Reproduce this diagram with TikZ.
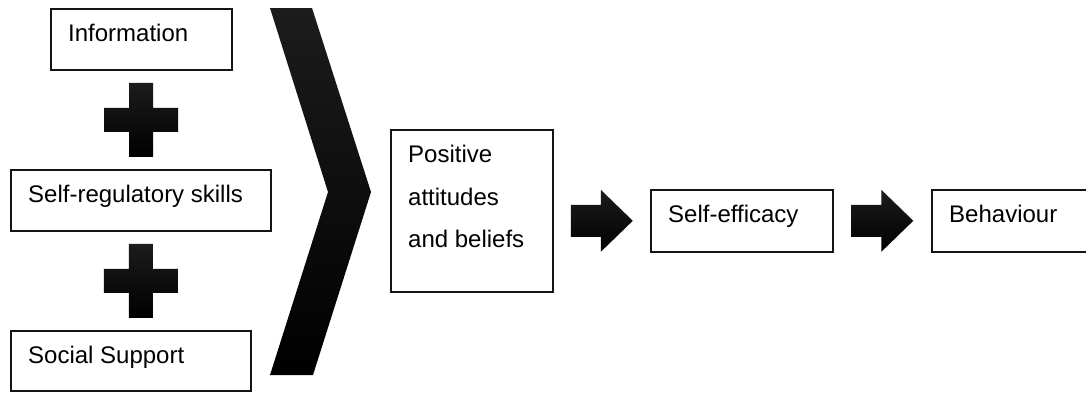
\documentclass[tikz,border=0pt]{standalone}
\usepackage{fontspec}
\setmainfont{Liberation Sans}
\usepackage{tikz}
\usetikzlibrary{calc,positioning}
\definecolor{ink}{HTML}{000000}
\definecolor{boxLine}{HTML}{141414}
\definecolor{shapeTop}{HTML}{1C1C1C}

\begin{document}
\begin{tikzpicture}[x=1pt, y=1pt,
    every node/.style={font=\fontsize{24}{42.5}\selectfont},
    box/.style={draw=boxLine, line width=1.6pt, inner sep=0pt,
                anchor=north west},
    boxText/.style={inner sep=0pt, align=left, text=ink},
    solidShape/.style={top color=shapeTop, bottom color=ink, draw=none},
    plusSign/.pic={
      \path[solidShape] (-12,37) -- (12,37) -- (12,12) -- (37,12)
        -- (37,-12) -- (12,-12) -- (12,-37) -- (-12,-37) -- (-12,-12)
        -- (-37,-12) -- (-37,12) -- (-12,12) -- cycle;},
    blockArrow/.pic={
      \path[solidShape] (-31,16) -- (-1,16) -- (-1,31) -- (31,0)
        -- (-1,-31) -- (-1,-16) -- (-31,-16) -- cycle;}]

  \def\W{1086}   % ancho total
  \def\H{392}    % alto total
  \def\PX{18}    % sangría del texto
  \def\PY{16}    % margen superior del texto

  \useasboundingbox (0,0) rectangle (\W,-\H);
  \clip (0,0) rectangle (\W,-\H);

  % ── Columna izquierda ─────────────────────────────────────
  \node[box, minimum width=181pt, minimum height=61pt] (info) at (50,-8) {};
  \node[box, minimum width=260pt, minimum height=61pt] (selfReg) at (10,-169) {};
  \node[box, minimum width=240pt, minimum height=60pt] (social) at (10,-330) {};

  \node[boxText, below right=\PY pt and \PX pt of info.north west]
    (infoText) {Information};
  \node[boxText, below right=\PY pt and \PX pt of selfReg.north west]
    (selfRegText) {Self-regulatory skills};
  \node[boxText, below right=\PY pt and \PX pt of social.north west]
    (socialText) {Social Support};

  % ── Signos de suma ────────────────────────────────────────
  \pic at ($(info.south)!0.5!(selfReg.north)$) {plusSign};
  \pic at ($(selfReg.south)!0.5!(selfReg.south |- social.north)$) {plusSign};

  % ── Chevron ───────────────────────────────────────────────
  \path[solidShape] (270,-8) -- (312,-8) -- (371,-192) -- (313,-375)
    -- (270,-375) -- (328,-192) -- cycle;

  % ── Cadena de la derecha ──────────────────────────────────
  \node[box, minimum width=162pt, minimum height=162pt] (attitudes) at (390,-129) {};
  \node[box, minimum width=182pt, minimum height=62pt] (efficacy) at (650,-189) {};
  \node[box, minimum width=200pt, minimum height=62pt] (behaviour) at (931,-189) {};

  \node[boxText, below right=\PY pt and \PX pt of attitudes.north west]
    (attitudesText) {Positive\\attitudes\\and beliefs};
  \node[boxText, below right=\PY pt and \PX pt of efficacy.north west]
    (efficacyText) {Self-efficacy};
  \node[boxText, below right=\PY pt and \PX pt of behaviour.north west]
    (behaviourText) {Behaviour};

  % ── Flechas de bloque ─────────────────────────────────────
  \pic at ($(attitudes.east |- efficacy.west)!0.5!(efficacy.west)$) {blockArrow};
  \pic at ($(efficacy.east)!0.5!(behaviour.west)$) {blockArrow};

\end{tikzpicture}
\end{document}
